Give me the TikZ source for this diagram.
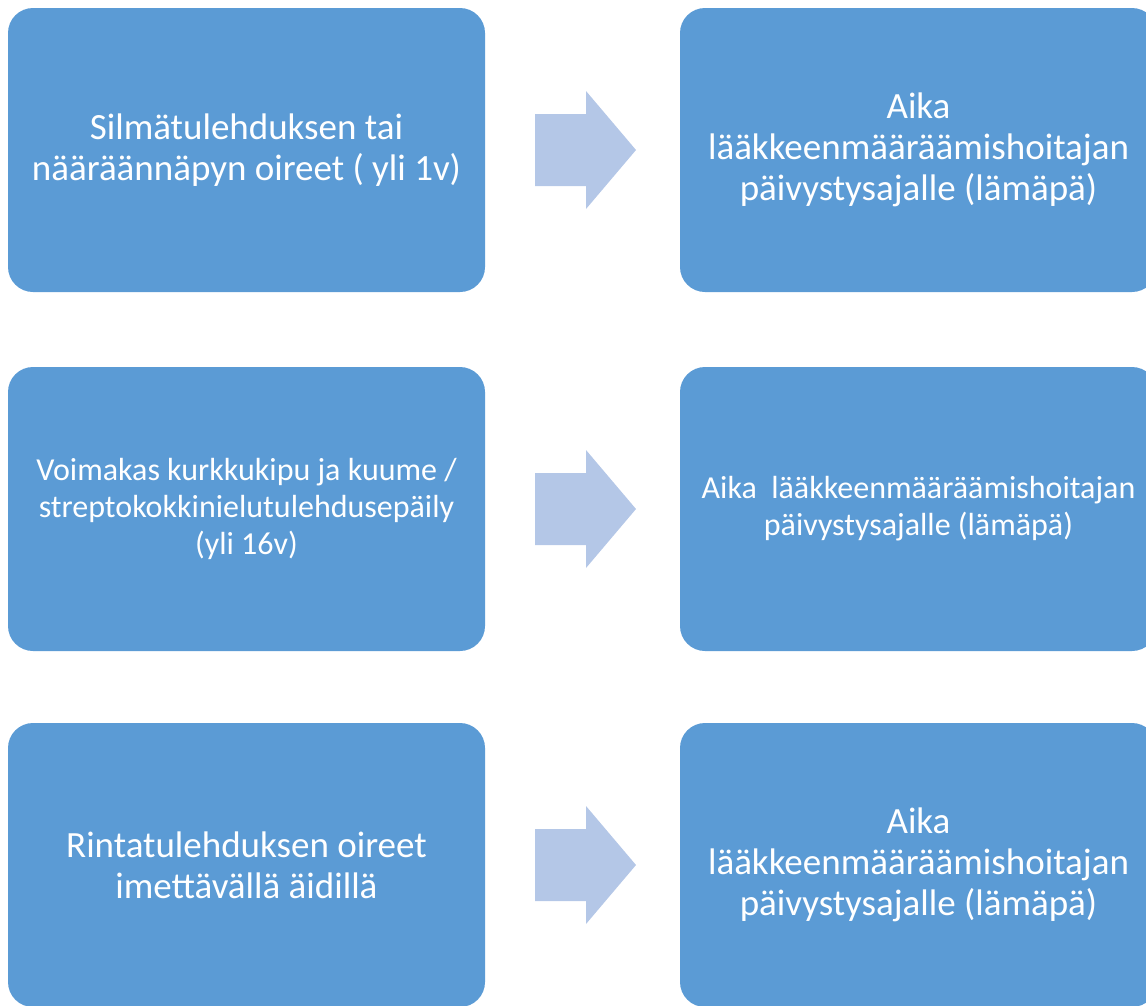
\documentclass[tikz,border=0pt]{standalone}
\usepackage{fontspec}
\setmainfont{Carlito}
\usetikzlibrary{calc}

\definecolor{boxblue}{HTML}{5B9BD5}
\definecolor{arrowblue}{HTML}{B4C7E7}

\tikzset{
  stepbox/.style={fill=boxblue, rounded corners=25pt, inner sep=0pt,
    minimum width=477pt, minimum height=284pt, text=white, align=center,
    font=\fontsize{37}{41}\selectfont},
  smalltext/.style={font=\fontsize{32}{37}\selectfont},
  arrowfill/.style={fill=arrowblue}
}

\newcommand{\blockarrow}[1]{%
  \fill[arrowfill] (#1) ++(-47.5,-36) -- ++(51,0) -- ++(0,-23) -- ++(50,59)
    -- ++(-50,59) -- ++(0,-23) -- ++(-51,0) -- cycle;}

\begin{document}
\begin{tikzpicture}[x=1pt,y=-1pt]
  \useasboundingbox (0,0) rectangle (1146,1005);
  \clip (0,0) rectangle (1146,1005);

  % Left column
  \node[stepbox] (silma) at (246.5,150) {Silmätulehduksen tai\\nääräännäpyn oireet ( yli 1v)};
  \node[stepbox, smalltext] (kurkku) at (246.5,509) {Voimakas kurkkukipu ja kuume /\\streptokokkinielutulehdusepäily\\(yli 16v)};
  \node[stepbox] (rinta) at (246.5,865) {Rintatulehduksen oireet\\imettävällä äidillä};

  % Right column
  \node[stepbox] (aika1) at (918.5,150) {Aika\\lääkkeenmääräämishoitajan\\päivystysajalle (lämäpä)};
  \node[stepbox, smalltext] (aika2) at (918.5,509) {Aika\ \ lääkkeenmääräämishoitajan\\päivystysajalle (lämäpä)};
  \node[stepbox] (aika3) at (918.5,865) {Aika\\lääkkeenmääräämishoitajan\\päivystysajalle (lämäpä)};

  % Arrows
  \coordinate (a1) at ($(silma.east)!0.5!(aika1.west)$);
  \coordinate (a2) at ($(kurkku.east)!0.5!(aika2.west)$);
  \coordinate (a3) at ($(rinta.east)!0.5!(aika3.west)$);
  \blockarrow{a1}
  \blockarrow{a2}
  \blockarrow{a3}
\end{tikzpicture}
\end{document}
